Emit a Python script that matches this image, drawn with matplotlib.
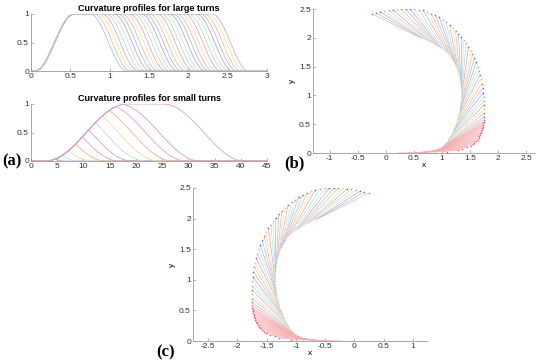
import numpy as np
import matplotlib
matplotlib.use('Agg')
import matplotlib.pyplot as plt
from matplotlib.ticker import FuncFormatter
from matplotlib.colors import to_rgb

# ---------------- data ----------------
# large turns: common rise, then drops starting at these abscissae
large_rise = [0.05, 0.55]
large_fall_width = 0.47
large_fall_start = [0.75, 0.80, 0.85, 0.90, 0.95, 1.00, 1.05, 1.10, 1.15, 1.20,
                    1.25, 1.30, 1.35, 1.40, 1.45, 1.50, 1.55, 1.60, 1.65, 1.70,
                    1.75, 1.80, 1.85, 1.90, 1.95, 2.00, 2.05, 2.10, 2.15, 2.20,
                    2.25, 2.30]
# small turns: common rise, truncated at these peak abscissae, plus one full profile
small_rise = [2.8, 18.3]
small_full_fall = [25.2, 40.7]
small_peaks = [4.6, 5.9, 7.2, 8.5, 9.8, 11.0, 12.3, 13.6, 14.9, 16.2, 17.5]

# end poses of the turns in (b): heading (deg) and rear point; (c) is the mirror
pose_heading = [0, 3, 8, 15, 23, 31, 40, 50, 60, 70, 80, 90, 100, 110, 120, 130, 142, 154]
pose_rear_x = [0.00, 0.40, 0.65, 0.80, 0.90, 0.99, 1.08, 1.18, 1.26, 1.32, 1.35, 1.35,
               1.32, 1.25, 1.13, 0.97, 0.77, 0.55]
pose_rear_y = [0.00, 0.00, 0.005, 0.02, 0.045, 0.08, 0.18, 0.33, 0.52, 0.72, 0.93, 1.13,
               1.33, 1.53, 1.71, 1.83, 1.94, 2.03]
vehicle_length = 0.88
small_turn_headings = [0, 33]     # red group
large_turn_headings = [35, 154]   # coloured group
n_small_lines = 22
n_large_lines = 44

matlab_colors = ['#0072BD', '#D95319', '#EDB120', '#7E2F8E', '#77AC30', '#4DBEEE', '#A2142F']

# ---------------- helpers ----------------
def light(c, a=0.5):
    r, g, b = to_rgb(c)
    return (1 - a + a * r, 1 - a + a * g, 1 - a + a * b)

def ramp(t, t0, t1):
    u = np.clip((t - t0) / (t1 - t0), 0, 1)
    return 0.5 * (1 - np.cos(np.pi * u))

fmt = FuncFormatter(lambda v, p: '%g' % v)

W, H = 550, 362
fig = plt.figure(figsize=(5.5, 3.62), dpi=100)
plt.rcParams['font.family'] = ['Liberation Sans', 'DejaVu Sans']

def add_ax(l, t, r, b):
    return fig.add_axes([l / W, 1 - b / H, (r - l) / W, (b - t) / H])

def style(ax):
    for s in ['top', 'right']:
        ax.spines[s].set_visible(False)
    for s in ['left', 'bottom']:
        ax.spines[s].set_color('#9a9a9a')
        ax.spines[s].set_linewidth(0.6)
    ax.tick_params(direction='in', length=2, width=0.5, color='#9a9a9a',
                   labelsize=6, labelcolor='#333333', pad=1.5)
    ax.xaxis.set_major_formatter(fmt)
    ax.yaxis.set_major_formatter(fmt)

# ---------------- top: large turns ----------------
ax1 = add_ax(31, 14, 267, 71)
t = np.linspace(0, 3, 1500)
n = len(large_fall_start)
for i in range(n - 1, -1, -1):
    fs = large_fall_start[i]
    k = ramp(t, *large_rise) * (1 - ramp(t, fs, fs + large_fall_width))
    ax1.plot(t, k, color=light(matlab_colors[i % 7], 0.4), lw=0.6)
ax1.set_xlim(0, 3)
ax1.set_ylim(0, 1)
ax1.set_xticks([0, 0.5, 1, 1.5, 2, 2.5, 3])
ax1.set_yticks([0, 0.5, 1])
ax1.set_title('Curvature profiles for large turns', fontsize=6.5, fontweight='bold', pad=2)
style(ax1)

# ---------------- bottom: small turns ----------------
ax2 = add_ax(31, 104, 267, 161)
t = np.linspace(0, 45, 3000)
small_cols = ['#7E2F8E', '#4DBEEE', '#EDB120', '#D95319', '#D0209A']
k = ramp(t, *small_rise) * (1 - ramp(t, *small_full_fall))
ax2.plot(t, k, color=light('#D0209A', 0.45), lw=0.6)
for i, p in enumerate(small_peaks):
    k = np.where(t <= p, ramp(t, *small_rise), ramp(2 * p - t, *small_rise))
    ax2.plot(t, k, color=light(small_cols[i % 5], 0.45), lw=0.6)
ax2.set_xlim(0, 45)
ax2.set_ylim(0, 1)
ax2.set_xticks(list(range(0, 46, 5)))
ax2.set_yticks([0, 0.5, 1])
ax2.set_title('Curvature profiles for small turns', fontsize=6.5, fontweight='bold', pad=2)
style(ax2)

# ---------------- trajectories ----------------
def draw_fan(ax, sign):
    groups = [(np.linspace(*small_turn_headings, n_small_lines), None),
              (np.linspace(*large_turn_headings, n_large_lines), matlab_colors)]
    for th, cols in groups:
        rx = np.interp(th, pose_heading, pose_rear_x) * sign
        ry = np.interp(th, pose_heading, pose_rear_y)
        fx = rx + sign * vehicle_length * np.cos(np.radians(th))
        fy = ry + vehicle_length * np.sin(np.radians(th))
        for j in range(len(th)):
            c = '#E8303A' if cols is None else cols[j % 7]
            ax.plot([rx[j], fx[j]], [ry[j], fy[j]], color=light(c, 0.4), lw=0.5)
            ax.plot([fx[j]], [fy[j]], marker='o', ms=1.2, color=light(c, 0.75), mec='none')

ax3 = add_ax(313, 9, 535, 153)
draw_fan(ax3, 1)
ax3.set_xlim(-1.3, 2.66)
ax3.set_ylim(0, 2.5)
ax3.set_xticks([-1, -0.5, 0, 0.5, 1, 1.5, 2, 2.5])
ax3.set_yticks([0, 0.5, 1, 1.5, 2, 2.5])
style(ax3)
ax3.set_xlabel('x', fontsize=6, labelpad=0)
ax3.set_ylabel('y', fontsize=6, labelpad=2)

ax4 = add_ax(193, 188, 427, 341)
draw_fan(ax4, -1)
ax4.set_xlim(-2.76, 1.24)
ax4.set_ylim(0, 2.5)
ax4.set_xticks([-2.5, -2, -1.5, -1, -0.5, 0, 0.5, 1])
ax4.set_yticks([0, 0.5, 1, 1.5, 2, 2.5])
style(ax4)
ax4.set_xlabel('x', fontsize=6, labelpad=0)
ax4.set_ylabel('y', fontsize=6, labelpad=2)

# panel labels
lab = dict(fontsize=12, fontweight='bold', family=['Liberation Serif', 'DejaVu Serif'],
           ha='left', va='center')
fig.text(2 / W, 1 - 161 / H, '(a)', **lab)
fig.text(284 / W, 1 - 163 / H, '(b)', **lab)
fig.text(156 / W, 1 - 352 / H, '(c)', **lab)

fig.savefig('out.png', dpi=100)
